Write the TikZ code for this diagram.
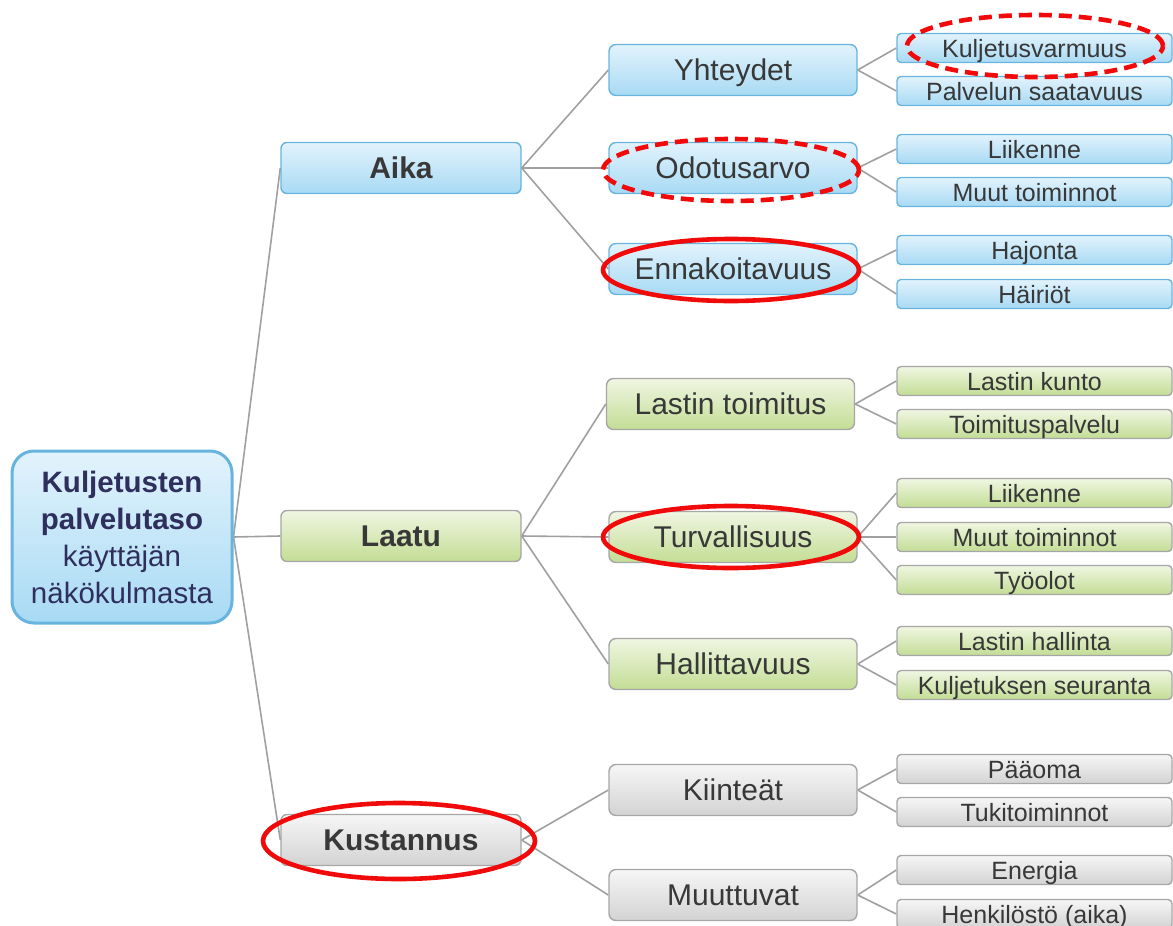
\documentclass[tikz,border=0pt]{standalone}
\usepackage{fontspec}
\setmainfont{Liberation Sans}
\begin{document}
\begin{tikzpicture}[x=1pt,y=-1pt]
\definecolor{bluetop}{HTML}{E2F3FC}
\definecolor{bluebot}{HTML}{A8DAF4}
\definecolor{blueline}{HTML}{68B4DE}
\definecolor{greentop}{HTML}{F0F6E2}
\definecolor{greenbot}{HTML}{C3DD95}
\definecolor{graytop}{HTML}{F6F6F6}
\definecolor{graybot}{HTML}{D3D3D3}
\definecolor{boxline}{HTML}{A6A6A6}
\definecolor{linkgray}{HTML}{A0A0A0}
\definecolor{txt}{HTML}{383838}
\definecolor{roottxt}{HTML}{2F2F5E}
\definecolor{ringred}{HTML}{F00A0A}
\tikzset{
  base/.style={draw, align=center, inner sep=0pt, text=txt, line width=1.4pt},
  bluebox/.style={base, draw=blueline, top color=bluetop, bottom color=bluebot},
  greenbox/.style={base, draw=boxline, top color=greentop, bottom color=greenbot},
  graybox/.style={base, draw=boxline, top color=graytop, bottom color=graybot},
  lone/.style={minimum width=240pt, minimum height=51pt, rounded corners=6pt,
    text height=21.5pt, text depth=0pt,
    font=\bfseries\fontsize{30}{34}\selectfont},
  ltwo/.style={minimum width=248pt, minimum height=51pt, rounded corners=7pt,
    text height=21.5pt, text depth=0pt,
    font=\fontsize{30}{34}\selectfont},
  lthree/.style={minimum width=275pt, minimum height=29pt, rounded corners=4pt,
    text height=18pt, text depth=0pt,
    font=\fontsize{25}{28}\selectfont},
  link/.style={draw=linkgray, line width=1.6pt},
  ring/.style={draw=ringred, line width=4.6pt},
  dashring/.style={ring, dash pattern=on 13pt off 7pt},
}
\pgfdeclarelayer{bg}
\pgfsetlayers{bg,main}
\useasboundingbox (0,0) rectangle (1173,926);

% root
\node[bluebox, line width=3pt, minimum width=220pt, minimum height=172pt,
  rounded corners=22pt, text=roottxt, font=\fontsize{29.5}{37}\selectfont]
  (root) at (122,537)
  {\textbf{Kuljetusten}\\\textbf{palvelutaso}\\käyttäjän\\näkökulmasta};

% first level
\node[bluebox, lone]  (aika) at (401,168) {Aika};
\node[greenbox, lone] (laatu) at (401,536) {Laatu};
\node[graybox, lone]  (kust) at (401,840) {Kustannus};

% second level
\node[bluebox, ltwo]  (yht)  at (733,70)  {Yhteydet};
\node[bluebox, ltwo]  (odo)  at (733,168) {Odotusarvo};
\node[bluebox, ltwo]  (enn)  at (733,269) {Ennakoitavuus};
\node[greenbox, ltwo] (last) at (730.5,404) {Lastin toimitus};
\node[greenbox, ltwo] (turv) at (733,537) {Turvallisuus};
\node[greenbox, ltwo] (hall) at (733,664) {Hallittavuus};
\node[graybox, ltwo]  (kiin) at (733,790) {Kiinteät};
\node[graybox, ltwo]  (muut) at (733,895) {Muuttuvat};

% third level
\node[bluebox, lthree]  (kv)  at (1034.5,48)  {Kuljetusvarmuus};
\node[bluebox, lthree]  (ps)  at (1034.5,91)  {Palvelun saatavuus};
\node[bluebox, lthree]  (lia) at (1034.5,149) {Liikenne};
\node[bluebox, lthree]  (mta) at (1034.5,192) {Muut toiminnot};
\node[bluebox, lthree]  (haj) at (1034.5,250) {Hajonta};
\node[bluebox, lthree]  (hai) at (1034.5,294) {Häiriöt};
\node[greenbox, lthree] (lk)  at (1034.5,381) {Lastin kunto};
\node[greenbox, lthree] (tp)  at (1034.5,424) {Toimituspalvelu};
\node[greenbox, lthree] (lib) at (1034.5,493) {Liikenne};
\node[greenbox, lthree] (mtb) at (1034.5,537) {Muut toiminnot};
\node[greenbox, lthree] (tyo) at (1034.5,580) {Työolot};
\node[greenbox, lthree] (lh)  at (1034.5,641) {Lastin hallinta};
\node[greenbox, lthree] (ks)  at (1034.5,685) {Kuljetuksen seuranta};
\node[graybox, lthree]  (paa) at (1034.5,769) {Pääoma};
\node[graybox, lthree]  (tuk) at (1034.5,812) {Tukitoiminnot};
\node[graybox, lthree]  (ene) at (1034.5,870) {Energia};
\node[graybox, lthree]  (hen) at (1034.5,914) {Henkilöstö (aika)};

% connectors, behind the boxes
\begin{pgfonlayer}{bg}
  \foreach \a in {aika,laatu,kust} \draw[link] (root.east) -- (\a.west);
  \foreach \a in {yht,odo,enn} \draw[link] (aika.east) -- (\a.west);
  \foreach \a in {last,turv,hall} \draw[link] (laatu.east) -- (\a.west);
  \foreach \a in {kiin,muut} \draw[link] (kust.east) -- (\a.west);
  \foreach \a in {kv,ps} \draw[link] (yht.east) -- (\a.west);
  \foreach \a in {lia,mta} \draw[link] (odo.east) -- (\a.west);
  \foreach \a in {haj,hai} \draw[link] (enn.east) -- (\a.west);
  \foreach \a in {lk,tp} \draw[link] (last.east) -- (\a.west);
  \foreach \a in {lib,mtb,tyo} \draw[link] (turv.east) -- (\a.west);
  \foreach \a in {lh,ks} \draw[link] (hall.east) -- (\a.west);
  \foreach \a in {paa,tuk} \draw[link] (kiin.east) -- (\a.west);
  \foreach \a in {ene,hen} \draw[link] (muut.east) -- (\a.west);
\end{pgfonlayer}

% red highlight rings
\draw[dashring] (1035,46) ellipse [x radius=128pt, y radius=31pt];
\draw[dashring] (731,170) ellipse [x radius=128pt, y radius=31pt];
\draw[ring] (731,270) ellipse [x radius=128pt, y radius=31pt];
\draw[ring] (731,537) ellipse [x radius=128pt, y radius=31pt];
\draw[ring] (399,841) ellipse [x radius=136pt, y radius=38pt];
\end{tikzpicture}
\end{document}
